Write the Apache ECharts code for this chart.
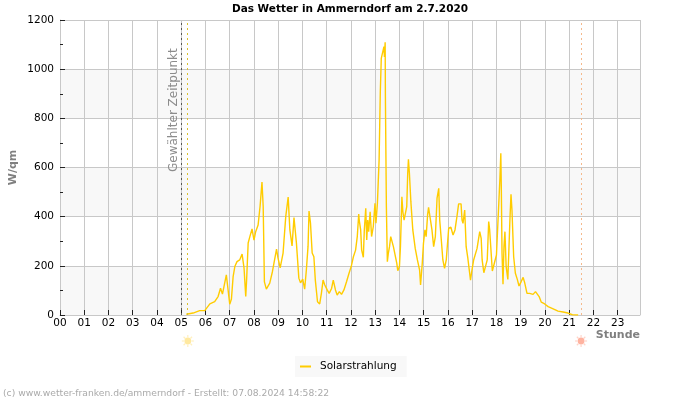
<!DOCTYPE html>
<html><head><meta charset="utf-8">
<style>html,body{margin:0;padding:0;background:#fff}#c{width:700px;height:400px}</style>
<script src="https://cdn.jsdelivr.net/npm/echarts@6/dist/echarts.min.js"></script>
</head><body><div id="c"></div>
<script>
const chartTitle = 'Das Wetter in Ammerndorf am 2.7.2020';
const seriesName = 'Solarstrahlung';
const footer = '(c) www.wetter-franken.de/ammerndorf - Erstellt: 07.08.2024 14:58:22';
const hourLabels = ['00','01','02','03','04','05','06','07','08','09','10','11','12','13','14','15','16','17','18','19','20','21','22','23'];
const yTicks = [0,200,400,600,800,1000,1200];
const selectedHour = 4.99, sunriseHour = 5.23, sunsetHour = 21.49, lastHour = 23.92;
const hours = [5.21,5.49,5.76,5.97,6.04,6.18,6.38,6.52,6.62,6.7,6.78,6.86,6.93,7.0,7.07,7.14,7.21,7.3,7.41,7.51,7.59,7.66,7.7,7.76,7.83,7.92,8.0,8.07,8.17,8.25,8.33,8.38,8.43,8.51,8.65,8.76,8.93,8.99,9.08,9.2,9.31,9.41,9.48,9.57,9.65,9.75,9.85,9.92,10.01,10.09,10.16,10.23,10.27,10.33,10.4,10.47,10.53,10.62,10.71,
10.78,10.85,10.92,11.02,11.1,11.2,11.27,11.36,11.43,11.52,11.61,11.71,11.82,11.92,12.01,12.1,12.19,12.26,12.32,12.34,12.4,12.44,12.51,12.55,12.61,12.65,12.69,12.73,12.79,12.85,12.92,12.99,13.03,13.09,13.13,13.16,13.2,13.21,13.24,13.25,13.32,13.36,13.38,13.41,13.42,13.45,13.46,13.5,13.54,13.59,13.64,13.7,13.75,13.83,13.89,13.93,14.0,14.04,14.1,14.14,14.19,14.26,14.3,14.34,14.37,14.41,14.47,14.55,14.65,14.74,14.83,14.87,14.94,14.99,15.05,15.1,15.16,15.2,15.27,15.34,15.41,15.48,15.55,15.62,15.66,15.72,15.79,15.86,15.93,16.03,16.12,16.21,16.29,16.37,16.44,16.54,16.58,16.62,16.69,16.75,16.82,16.86,16.93,16.99,17.06,17.2,17.31,17.37,17.41,17.48,17.55,17.62,17.68,17.72,
17.76,17.83,17.9,18.0,18.08,18.14,18.18,18.2,18.23,18.27,18.31,18.35,18.4,18.47,18.52,18.56,18.6,18.64,18.71,18.78,18.86,18.93,19.02,19.1,19.17,19.26,19.37,19.44,19.51,19.61,19.68,19.76,19.85,19.99,20.13,20.34,20.54,20.75,20.95,21.13,21.37];
const solar = [3,8,18,18,20,45,54,75,109,85,85,163,170,44,65,156,197,217,224,248,191,75,150,293,319,350,305,339,366,441,541,441,135,105,130,176,268,232,192,252,400,480,346,281,396,293,150,131,146,105,183,280,423,374,252,237,142,54,45,
88,142,122,102,88,108,142,102,81,95,84,102,136,170,197,237,264,319,411,386,346,264,235,346,434,305,386,339,420,319,359,454,373,454,454,630,630,909,909,1044,1044,1092,1050,1109,888,888,441,217,251,278,319,312,278,278,210,180,197,278,481,420,386,380,441,576,633,576,461,346,271,224,183,122,210,292,346,319,407,438,434,346,278,319,475,515,386,312,224,190,224,353,357,325,346,400,452,452,386,373,427,278,231,237,142,183,224,271,339,312,224,172,170,224,380,346,
285,179,179,244,247,549,658,522,250,125,278,339,197,145,145,400,491,427,237,170,145,118,136,153,129,88,88,95,84,95,95,75,52,45,34,25,16,12,8,1,0];

const chart = echarts.init(document.getElementById('c'), null, {renderer:'canvas'});
const FONT = '"DejaVu Sans"';
const points = hours.map((h,i)=>[h,solar[i]]);
function vline(h,color){
  return {xAxis:h,lineStyle:{color:color,type:[2,3],width:1}};
}
chart.setOption({
  animation:false,
  backgroundColor:'#fff',
  textStyle:{fontFamily:FONT},
  title:{text:chartTitle,left:'center',top:-1,textStyle:{fontSize:10.5,fontWeight:'bold',color:'#000',fontFamily:FONT}},
  grid:{left:60,right:60,top:20,bottom:85,show:false,outerBoundsMode:'none'},
  legend:{
    left:295,top:356,padding:[5,10,5,5],backgroundColor:'#f8f8f8',itemWidth:11,itemHeight:2,
    textStyle:{fontSize:10.5,color:'#000',fontFamily:FONT,padding:[0,0,0,4]},
    data:[{name:seriesName,icon:'rect'}]
  },
  xAxis:{
    type:'value',min:0,max:lastHour,interval:1,
    axisLine:{show:true,lineStyle:{color:'#c8c8c8'}},
    axisTick:{show:true,inside:true,length:5,lineStyle:{color:'#222'}},
    axisLabel:{fontSize:10.5,color:'#000',margin:3,fontFamily:FONT,showMaxLabel:false,
      formatter:v=>hourLabels[v]||''},
    splitLine:{show:true,lineStyle:{color:'#c8c8c8'}}
  },
  yAxis:{
    type:'value',min:yTicks[0],max:yTicks[yTicks.length-1],interval:200,
    name:'W/qm',nameLocation:'middle',nameGap:41,nameRotate:90,nameMoveOverlap:false,
    nameTextStyle:{fontSize:11,fontWeight:'bold',color:'#808080',fontFamily:FONT},
    axisLine:{show:true,lineStyle:{color:'#c8c8c8'}},
    axisTick:{show:true,inside:true,length:5,lineStyle:{color:'#222'}},
    minorTick:{show:true,splitNumber:2,length:3,lineStyle:{color:'#222'}},
    axisLabel:{fontSize:10.5,color:'#000',margin:6,fontFamily:FONT,formatter:v=>String(v)},
    splitLine:{show:true,lineStyle:{color:'#c8c8c8'}},
    splitArea:{show:true,areaStyle:{color:['#f8f8f8','#ffffff']}}
  },
  series:[{
    name:seriesName,type:'line',data:points,showSymbol:false,symbol:'none',
    lineStyle:{color:'#ffcc00',width:1.4},itemStyle:{color:'#ffcc00'},
    markLine:{silent:true,symbol:'none',label:{show:false},animation:false,
      data:[vline(selectedHour,'#555555'),vline(sunriseHour,'#d8c030'),vline(sunsetHour,'#f5b98c')]}
  }]
});
function sun(x,y,core,ray){
  const kids=[{type:'circle',shape:{cx:0,cy:0,r:3.4},style:{fill:core}}];
  for(let i=0;i<8;i++){
    const a=i*Math.PI/4;
    kids.push({type:'line',shape:{x1:3.6*Math.cos(a),y1:3.6*Math.sin(a),x2:6*Math.cos(a),y2:6*Math.sin(a)},style:{stroke:ray,lineWidth:1.2}});
  }
  return {type:'group',x:x,y:y,children:kids};
}
const px = h=>chart.convertToPixel({xAxisIndex:0},h);
chart.setOption({graphic:[
  {type:'text',x:px(selectedHour)-13,y:172,rotation:Math.PI/2,style:{text:'Gewählter Zeitpunkt',fontSize:12,fill:'#8c8c8c',fontFamily:FONT,align:'left',verticalAlign:'top'}},
  {type:'text',right:60,top:330,style:{text:'Stunde',fontSize:11,fontWeight:'bold',fill:'#808080',fontFamily:FONT}},
  {type:'text',left:3,top:389,style:{text:footer,fontSize:9.2,fill:'#aaaaaa',fontFamily:FONT}},
  sun(px(sunriseHour)+1,341,'#ffe9a0','#fff0c0'),
  sun(px(sunsetHour),341,'#ffb3a0','#ffd5ca')
]});
</script></body></html>
